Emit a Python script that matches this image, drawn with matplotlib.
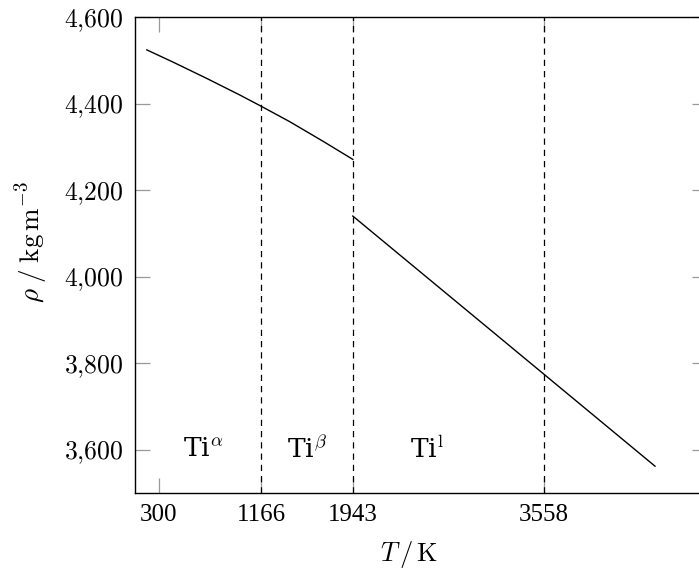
import matplotlib.pyplot as plt

plt.rcParams['mathtext.fontset'] = 'cm'
plt.rcParams['font.family'] = 'DejaVu Serif'

# solid phases (alpha + beta)
T_solid = [200, 420, 700, 985, 1166, 1410, 1690, 1943]
rho_solid = [4524, 4496, 4459, 4420, 4394, 4358, 4313, 4271]
# liquid
T_liquid = [1943, 3558, 4500]
rho_liquid = [4140, 3775, 3562]

T_trans = [1166, 1943, 3558]
x_ticks = [300, 1166, 1943, 3558]
y_ticks = [3600, 3800, 4000, 4200, 4400, 4600]
phase_names = [r'Ti$^{\alpha}$', r'Ti$^{\beta}$', r'Ti$^{\mathrm{l}}$']
phase_T = [680, 1554, 2570]

fig = plt.figure(figsize=(6.99, 5.83), dpi=100)
W, H = 699, 583
ax = fig.add_axes([135 / W, (H - 493) / H, (707 - 135) / W, (493 - 17) / H])

ax.plot(T_solid, rho_solid, color='black', lw=1.0)
ax.plot(T_liquid, rho_liquid, color='black', lw=1.0)
for t in T_trans:
    ax.axvline(t, color='black', lw=0.9, ls=(0, (5, 4)))

for name, t in zip(phase_names, phase_T):
    ax.text(t, 3600, name, ha='center', va='center', fontsize=19,
            math_fontfamily='cm', family='DejaVu Serif')

ax.set_xlim(100, 4940)
ax.set_ylim(3500, 4600)

ax.set_xticks(x_ticks)
ax.set_xticklabels([str(v) for v in x_ticks], fontsize=18, family='Liberation Serif')
ax.set_yticks(y_ticks)
ax.set_yticklabels([r'$%d{,}%03d$' % (v // 1000, v % 1000) for v in y_ticks], fontsize=18.5)

ax.tick_params(direction='in', length=11, width=0.9, color='0.6',
               top=True, right=True, pad=8)

for s in ax.spines.values():
    s.set_linewidth(1.0)

ax.set_xlabel(r'$T\,/\,\mathrm{K}$', fontsize=19, va='center')
ax.xaxis.set_label_coords((409 - 135) / (707 - 135), -(555 - 493) / (493 - 17))
ax.set_ylabel(r'$\rho\;/\;\mathrm{kg\,m^{-3}}$', fontsize=19.5, va='center')
ax.yaxis.set_label_coords(-(135 - 32) / (707 - 135), (493 - 242) / (493 - 17))

fig.savefig('out.png', dpi=100)
